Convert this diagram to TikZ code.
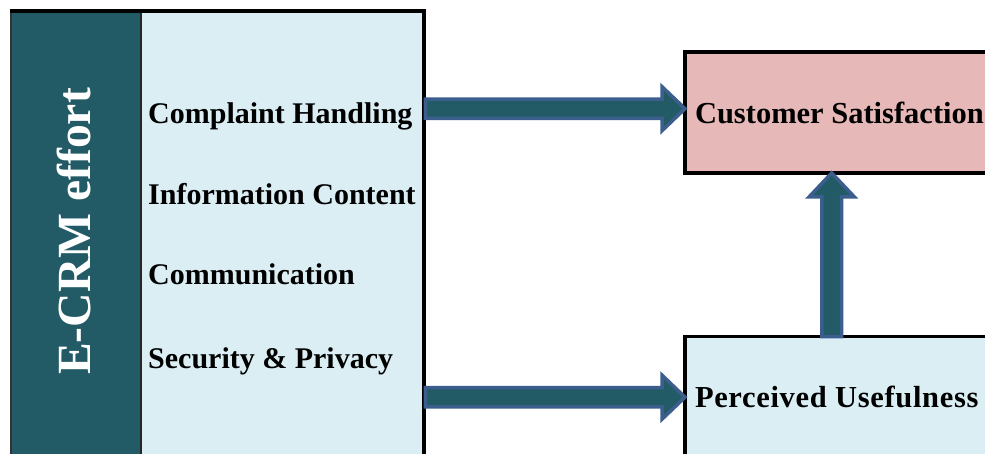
\documentclass[tikz,border=0pt]{standalone}
\usepackage{fontspec}
\setmainfont{Liberation Serif}
\usetikzlibrary{calc}
\definecolor{bandc}{HTML}{225A66}
\definecolor{lightb}{HTML}{DAEEF3}
\definecolor{pinkb}{HTML}{E6B8B7}
\definecolor{arrline}{HTML}{3B5E8C}
\definecolor{arrfill}{HTML}{225A66}
\tikzset{
  itemtext/.style={font=\bfseries\fontsize{30}{36}\selectfont, anchor=base west, inner sep=0pt},
  boxtext/.style={font=\bfseries\fontsize{30.5}{36}\selectfont},
  bigbox/.style={draw=black, line width=3.8pt, anchor=west, minimum height=121pt, inner xsep=10pt, inner ysep=0pt, outer sep=0pt},
  fatarrow/.style={draw=arrline, fill=arrfill, line width=3.5pt, line join=miter}
}
\newcommand\hfat[2]{\draw[fatarrow] let \p1=(#1), \p2=(#2) in
  (\x1+1.5pt,\y1+9.6pt) -- (\x2-23pt,\y1+9.6pt) -- (\x2-23pt,\y1+22pt) -- (\x2,\y1)
  -- (\x2-23pt,\y1-22pt) -- (\x2-23pt,\y1-9.6pt) -- (\x1+1.5pt,\y1-9.6pt) -- cycle;}
\newcommand\vfat[2]{\draw[fatarrow] let \p1=(#1), \p2=(#2) in
  (\x1-9.9pt,\y1) -- (\x1-9.9pt,\y2-24pt) -- (\x1-22.7pt,\y2-24pt) -- (\x1,\y2)
  -- (\x1+22.7pt,\y2-24pt) -- (\x1+9.9pt,\y2-24pt) -- (\x1+9.9pt,\y1) -- cycle;}
\begin{document}
\begin{tikzpicture}[x=1pt,y=-1pt]
\useasboundingbox (0,0) rectangle (985,454);
\clip (0,0) rectangle (985,454);
% left panel
\node[fill=lightb, minimum width=412.5pt, minimum height=460pt, anchor=north west, inner sep=0pt] (panel) at (11,11.5) {};
\node[fill=bandc, minimum width=129.5pt, minimum height=460pt, anchor=north west, inner sep=0pt] (band) at (11,11.5) {};
\draw[line width=1.2pt, black!80] (band.north west) -- (band.south west);
\draw[line width=1.5pt, black!85] (band.north east) -- (band.south east);
\draw[line width=4pt] ([xshift=-0.6pt]panel.north west) -- (panel.north east) -- (panel.south east);
\node[text=white, font=\bfseries\fontsize{47.6}{56}\selectfont, rotate=90, anchor=base, inner sep=0pt] (ecrm) at (90,231.5) {E-CRM effort};
\node[itemtext] (i1) at (148,123.3) {Complaint Handling};
\node[itemtext] (i2) at (148,205) {Information Content};
\node[itemtext] (i3) at (148,285) {Communication};
\node[itemtext] (i4) at (148,368.3) {Security \& Privacy};
% arrows
\coordinate (vx) at (831.7,0);
% right boxes
\node[bigbox, fill=pinkb, boxtext] (cs) at (685,112.5) {Customer Satisfaction};
\node[bigbox, fill=lightb, boxtext] (pu) at (685,397) {\addfontfeature{LetterSpace=2.2}Perceived Usefulness};
\coordinate (t1) at ($(cs.west)+(0,-3.8)$);
\coordinate (t2) at ($(pu.west)+(0,0.2)$);
\hfat{panel.east |- t1}{t1}
\hfat{panel.east |- t2}{t2}
\vfat{pu.north -| vx}{cs.south -| vx}
\end{tikzpicture}
\end{document}
